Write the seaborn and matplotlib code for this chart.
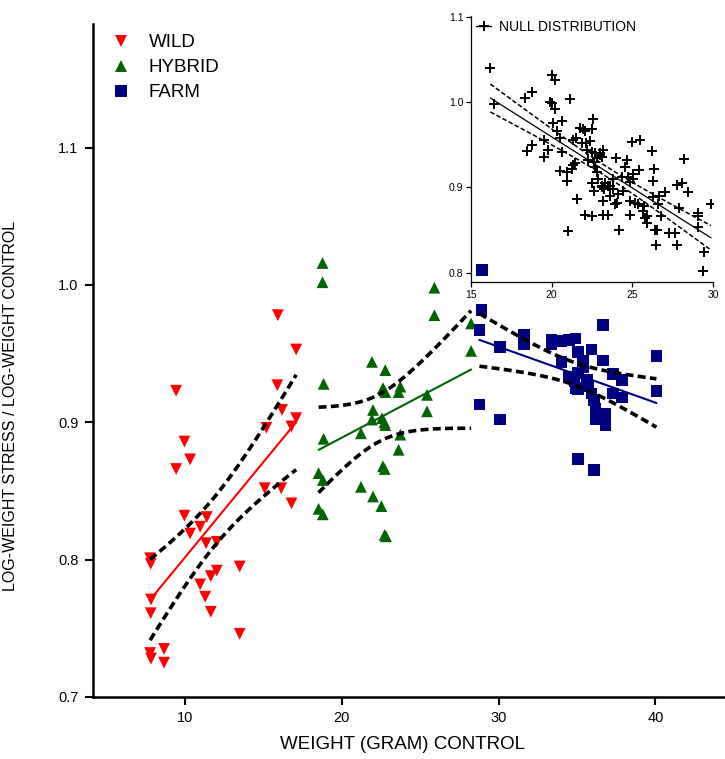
import numpy as np
import pandas as pd
import matplotlib
matplotlib.use("Agg")
import matplotlib.pyplot as plt
import seaborn as sns
from matplotlib.lines import Line2D

sns.set_theme(style="ticks")
plt.rcParams["font.family"] = ["Liberation Sans", "DejaVu Sans"]
for k in ["text.color", "axes.labelcolor", "xtick.color", "ytick.color", "axes.edgecolor"]:
    plt.rcParams[k] = "black"

# ---------------- data ----------------
wild_x = [15.93, 17.10, 9.45, 15.90, 16.20, 17.10, 16.80, 15.20, 9.98, 10.34, 9.45, 15.10,
          16.15, 16.80, 9.98, 11.40, 10.98, 10.34, 11.36, 12.04, 7.79, 7.83, 13.50, 12.04,
          11.66, 10.98, 11.30, 7.85, 11.66, 7.83, 13.50, 8.68, 7.79, 7.85, 8.68]
wild_y = [0.978, 0.953, 0.923, 0.927, 0.909, 0.903, 0.897, 0.896, 0.886, 0.873, 0.866, 0.852,
          0.852, 0.841, 0.832, 0.831, 0.824, 0.819, 0.812, 0.813, 0.801, 0.797, 0.795, 0.792,
          0.788, 0.782, 0.773, 0.771, 0.762, 0.761, 0.746, 0.735, 0.732, 0.728, 0.725]

hybrid_x = [18.78, 18.78, 25.91, 25.91, 28.25, 28.25, 21.93, 22.78, 18.85, 22.63, 22.78, 23.74,
            23.63, 25.44, 25.44, 22.00, 21.93, 22.57, 22.72, 22.78, 21.23, 23.74, 18.85, 23.63,
            22.63, 22.74, 18.53, 18.80, 21.23, 22.00, 22.53, 18.53, 18.80, 22.74, 22.83]
hybrid_y = [1.016, 1.002, 0.998, 0.978, 0.972, 0.952, 0.944, 0.938, 0.928, 0.925, 0.922, 0.926,
            0.922, 0.920, 0.908, 0.909, 0.902, 0.903, 0.900, 0.898, 0.892, 0.891, 0.888, 0.880,
            0.868, 0.866, 0.863, 0.858, 0.853, 0.846, 0.839, 0.837, 0.833, 0.818, 0.817]

farm_x = [28.91, 28.78, 36.68, 31.60, 31.60, 30.08, 33.38, 33.38, 34.01, 34.48, 34.90, 35.05,
          35.93, 40.06, 34.01, 35.37, 36.68, 35.37, 35.05, 34.48, 34.84, 35.65, 37.31, 37.89,
          34.90, 35.05, 35.69, 35.93, 37.31, 37.89, 40.06, 36.08, 36.18, 36.82, 28.78, 36.18,
          36.82, 30.08, 35.05, 36.08, 28.95]
farm_y = [0.982, 0.967, 0.971, 0.964, 0.957, 0.955, 0.960, 0.957, 0.959, 0.960, 0.961, 0.951,
          0.953, 0.948, 0.944, 0.945, 0.945, 0.940, 0.936, 0.933, 0.930, 0.931, 0.935, 0.931,
          0.925, 0.924, 0.926, 0.921, 0.921, 0.918, 0.923, 0.916, 0.910, 0.906, 0.913, 0.902,
          0.898, 0.902, 0.873, 0.865, 1.011]

null_x = [16.20, 16.44, 18.36, 18.77, 18.50, 18.81, 19.50, 19.50, 19.80, 20.00, 20.18, 19.90,
          20.00, 20.20, 20.10, 20.63, 20.36, 20.50, 20.50, 20.63, 21.14, 20.94, 20.94, 21.04,
          21.25, 21.35, 21.45, 21.35, 21.50, 21.56, 21.76, 21.97, 21.87, 22.07, 22.10, 22.20,
          22.07, 22.28, 22.38, 22.48, 22.55, 22.48, 22.48, 22.60, 22.48, 22.70, 22.70, 22.80,
          22.90, 23.00, 23.10, 23.10, 23.20, 23.20, 23.16, 23.25, 23.50, 23.50, 23.60, 23.60,
          23.78, 23.80, 23.90, 23.99, 24.03, 24.13, 24.20, 24.34, 24.40, 24.55, 24.65, 24.75,
          24.86, 24.86, 24.86, 24.96, 25.06, 25.06, 25.16, 25.37, 25.47, 25.43, 25.64, 25.72,
          25.78, 25.89, 25.89, 26.20, 26.30, 26.35, 26.30, 26.40, 26.55, 26.46, 26.60, 26.67,
          26.75, 27.00, 27.29, 27.64, 27.74, 27.74, 27.90, 28.10, 28.20, 28.42, 29.04, 29.08,
          29.04, 29.43, 29.35, 29.87, 23.00, 22.80, 22.60, 23.10, 23.30]
null_y = [1.040, 0.998, 1.005, 1.012, 0.943, 0.950, 0.956, 0.936, 0.944, 1.032, 1.026, 1.000,
          0.999, 0.992, 0.976, 0.978, 0.966, 0.958, 0.919, 0.941, 1.004, 0.918, 0.908, 0.849,
          0.922, 0.926, 0.928, 0.956, 0.958, 0.886, 0.970, 0.968, 0.952, 0.966, 0.952, 0.944,
          0.868, 0.932, 0.954, 0.968, 0.980, 0.942, 0.905, 0.896, 0.866, 0.924, 0.940, 0.918,
          0.910, 0.938, 0.936, 0.902, 0.944, 0.884, 0.868, 0.898, 0.868, 0.902, 0.902, 0.890,
          0.910, 0.898, 0.881, 0.934, 0.882, 0.892, 0.850, 0.912, 0.896, 0.924, 0.932, 0.912,
          0.906, 0.884, 0.868, 0.953, 0.916, 0.910, 0.882, 0.880, 0.956, 0.920, 0.872, 0.878,
          0.864, 0.858, 0.866, 0.943, 0.908, 0.921, 0.889, 0.850, 0.850, 0.832, 0.881, 0.890,
          0.866, 0.895, 0.847, 0.846, 0.903, 0.832, 0.876, 0.905, 0.933, 0.894, 0.866, 0.870,
          0.854, 0.824, 0.802, 0.880, 0.940, 0.935, 0.930, 0.900, 0.905]

groups = ["WILD", "HYBRID", "FARM"]
colors = {"WILD": "#FF0000", "HYBRID": "#006400", "FARM": "#000080"}
markers = {"WILD": "v", "HYBRID": "^", "FARM": "s"}

df = pd.concat([
    pd.DataFrame({"x": wild_x, "y": wild_y, "group": "WILD"}),
    pd.DataFrame({"x": hybrid_x, "y": hybrid_y, "group": "HYBRID"}),
    pd.DataFrame({"x": farm_x, "y": farm_y, "group": "FARM"}),
], ignore_index=True)


def ci_band(x, y, num=120):
    x = np.asarray(x, float)
    y = np.asarray(y, float)
    n = len(x)
    b, a = np.polyfit(x, y, 1)
    resid = y - (a + b * x)
    s = np.sqrt(np.sum(resid ** 2) / (n - 2))
    t = 1.96 + 2.4 / (n - 2)
    xs = np.linspace(x.min(), x.max(), num)
    fit = a + b * xs
    se = s * np.sqrt(1.0 / n + (xs - x.mean()) ** 2 / np.sum((x - x.mean()) ** 2))
    return xs, fit - t * se, fit + t * se


W, H = 725, 759
fig = plt.figure(figsize=(W / 100, H / 100), dpi=100)
ax = fig.add_axes([92.5 / W, 62 / H, 632 / W, 673 / H])

sns.scatterplot(data=df, x="x", y="y", hue="group", style="group",
                hue_order=groups, style_order=groups, palette=colors, markers=markers,
                s=72, linewidth=0, ax=ax, legend=True, zorder=3)

for g in groups:
    sub = df[df.group == g]
    sns.regplot(x=sub.x.values, y=sub.y.values, scatter=False, ci=None, truncate=True,
                color=colors[g], line_kws=dict(lw=1.5, zorder=4), ax=ax)
    xs, lo, hi = ci_band(sub.x.values, sub.y.values)
    for band in (lo, hi):
        ax.plot(xs, band, color="black", lw=2.6, dashes=(2.2, 1.2), zorder=5)

ax.set_xlim(4.12, 44.4)
ax.set_ylim(0.7, 1.19)
ax.set_xticks([10, 20, 30, 40])
ax.set_yticks([0.7, 0.8, 0.9, 1.0, 1.1])
ax.set_yticklabels(["0.7", "0.8", "0.9", "1.0", "1.1"])
ax.tick_params(direction="out", length=6, width=1.5, labelsize=10.5, pad=4)
for sp in ["left", "bottom"]:
    ax.spines[sp].set_linewidth(1.8)
sns.despine(ax=ax)
ax.set_xlabel("WEIGHT (GRAM) CONTROL", fontsize=13.5)
ax.set_ylabel("LOG-WEIGHT STRESS / LOG-WEIGHT CONTROL", fontsize=11.5)
ax.xaxis.set_label_coords(0.491, -0.058)
ax.yaxis.set_label_coords(-0.118, 0.432)

handles, labels = ax.get_legend_handles_labels()
for h in handles:
    h.set_markersize(8)
ax.legend(handles, labels, loc="upper left", bbox_to_anchor=(112 / W, 1 - 34 / H),
          bbox_transform=fig.transFigure, frameon=False, fontsize=13.5,
          handlelength=1.0, handletextpad=0.95, labelspacing=0.42,
          borderpad=0, borderaxespad=0)

# ---------------- inset ----------------
ax2 = fig.add_axes([471 / W, (H - 282) / H, 242 / W, 266 / H])
ax2.patch.set_alpha(0)
sns.scatterplot(x=null_x, y=null_y, marker="+", color="black", s=45, linewidth=1.4,
                ax=ax2, zorder=3)
sns.regplot(x=np.array(null_x), y=np.array(null_y), scatter=False, ci=None, truncate=True,
            color="black", line_kws=dict(lw=0.9), ax=ax2)
xs, lo, hi = ci_band(null_x, null_y)
for band in (lo, hi):
    ax2.plot(xs, band, color="black", lw=1.1, dashes=(3, 1.5))
ax2.set_xlim(15, 30)
ax2.set_ylim(0.789, 1.101)
ax2.set_xticks([15, 20, 25, 30])
ax2.set_yticks([0.8, 0.9, 1.0, 1.1])
ax2.set_yticklabels(["0.8", "0.9", "1.0", "1.1"])
ax2.tick_params(direction="out", length=3.5, width=0.9, labelsize=7.5, pad=2)
for sp in ["left", "bottom"]:
    ax2.spines[sp].set_linewidth(0.9)
sns.despine(ax=ax2)
ax2.set_xlabel("")
ax2.set_ylabel("")
hnull = Line2D([], [], color="black", marker="+", lw=1.0, markersize=7, markeredgewidth=1.4)
ax2.legend([hnull], ["NULL DISTRIBUTION"], loc="upper left",
           bbox_to_anchor=(476 / W, 1 - 20 / H), bbox_transform=fig.transFigure,
           frameon=False, fontsize=10, handlelength=1.1, handletextpad=0.55,
           borderpad=0, borderaxespad=0)

fig.savefig("out.png", dpi=100)
